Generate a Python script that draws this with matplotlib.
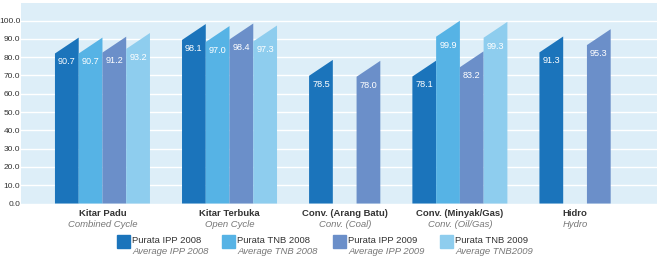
import matplotlib.pyplot as plt
from matplotlib.patches import Rectangle

plt.rcParams['font.family'] = ['Liberation Sans', 'DejaVu Sans']

# data
categories = ['Kitar Padu', 'Kitar Terbuka', 'Conv. (Arang Batu)', 'Conv. (Minyak/Gas)', 'Hidro']
categories_en = ['Combined Cycle', 'Open Cycle', 'Conv. (Coal)', 'Conv. (Oil/Gas)', 'Hydro']
ipp_2008 = [90.7, 98.1, 78.5, 78.1, 91.3]
tnb_2008 = [90.7, 97.0, None, 99.9, None]
ipp_2009 = [91.2, 98.4, 78.0, 83.2, 95.3]
tnb_2009 = [93.2, 97.3, None, 99.3, None]

series = [ipp_2008, tnb_2008, ipp_2009, tnb_2009]
colors = ['#1b74bb', '#56b3e5', '#6b8fc9', '#8ecdee']
legend_main = ['Purata IPP 2008', 'Purata TNB 2008', 'Purata IPP 2009', 'Purata TNB 2009']
legend_sub = ['Average IPP 2008', 'Average TNB 2008', 'Average IPP 2009', 'Average TNB2009']

W, H = 663, 256
fig = plt.figure(figsize=(W / 100, H / 100), dpi=100)
ax = fig.add_axes([21 / W, (H - 203.5) / H, 636 / W, 200.5 / H])
ax.set_facecolor('#ddeef8')

slant = 8.7   # drop of the left corner of each bar top
gap = 1.35    # space between groups, in bar widths
ax.set_xlim(-1.43, 26.78 - 1.43)
ax.set_ylim(0, 109.6)

x = 0.0
centers = []
for g in range(len(categories)):
    nslots = 4 if tnb_2009[g] is not None else 3
    start = x
    for s in range(nslots):
        v = series[s][g]
        if v is not None:
            ax.fill([x, x + 1, x + 1, x], [0, 0, v, v - slant],
                    color=colors[s], lw=0, zorder=3)
            ax.text(x + 0.5, v - slant - 4.6, f'{v:.1f}', color='white',
                    ha='center', va='center', fontsize=6.6, zorder=4)
        x += 1
    centers.append((start + x) / 2)
    x += gap

ax.set_yticks(range(0, 101, 10))
ax.set_yticklabels([f'{t:.1f}' for t in range(0, 101, 10)], fontsize=6.0, color='#333333')
ax.set_xticks([])
ax.tick_params(axis='y', length=0, pad=0.5)
ax.grid(axis='y', color='white', lw=1, zorder=1)
for sp in ax.spines.values():
    sp.set_visible(False)

# category labels
for c, main, sub in zip(centers, categories, categories_en):
    ax.text(c, -5.5, main, ha='center', va='center', fontsize=6.8,
            fontweight='bold', color='#333333')
    ax.text(c, -11.5, sub, ha='center', va='center', fontsize=6.8,
            style='italic', color='#777777')

# legend
leg_x = [117, 222, 333, 440]
for lx, col, main, sub in zip(leg_x, colors, legend_main, legend_sub):
    fig.patches.append(Rectangle((lx / W, (H - 248) / H), 13 / W, 13 / H,
                                 transform=fig.transFigure, color=col))
    fig.text((lx + 15) / W, (H - 240.7) / H, main, ha='left', va='center',
             fontsize=6.8, color='#333333')
    fig.text((lx + 15) / W, (H - 251.7) / H, sub, ha='left', va='center',
             fontsize=6.8, style='italic', color='#777777')

fig.savefig('out.png', dpi=100)
